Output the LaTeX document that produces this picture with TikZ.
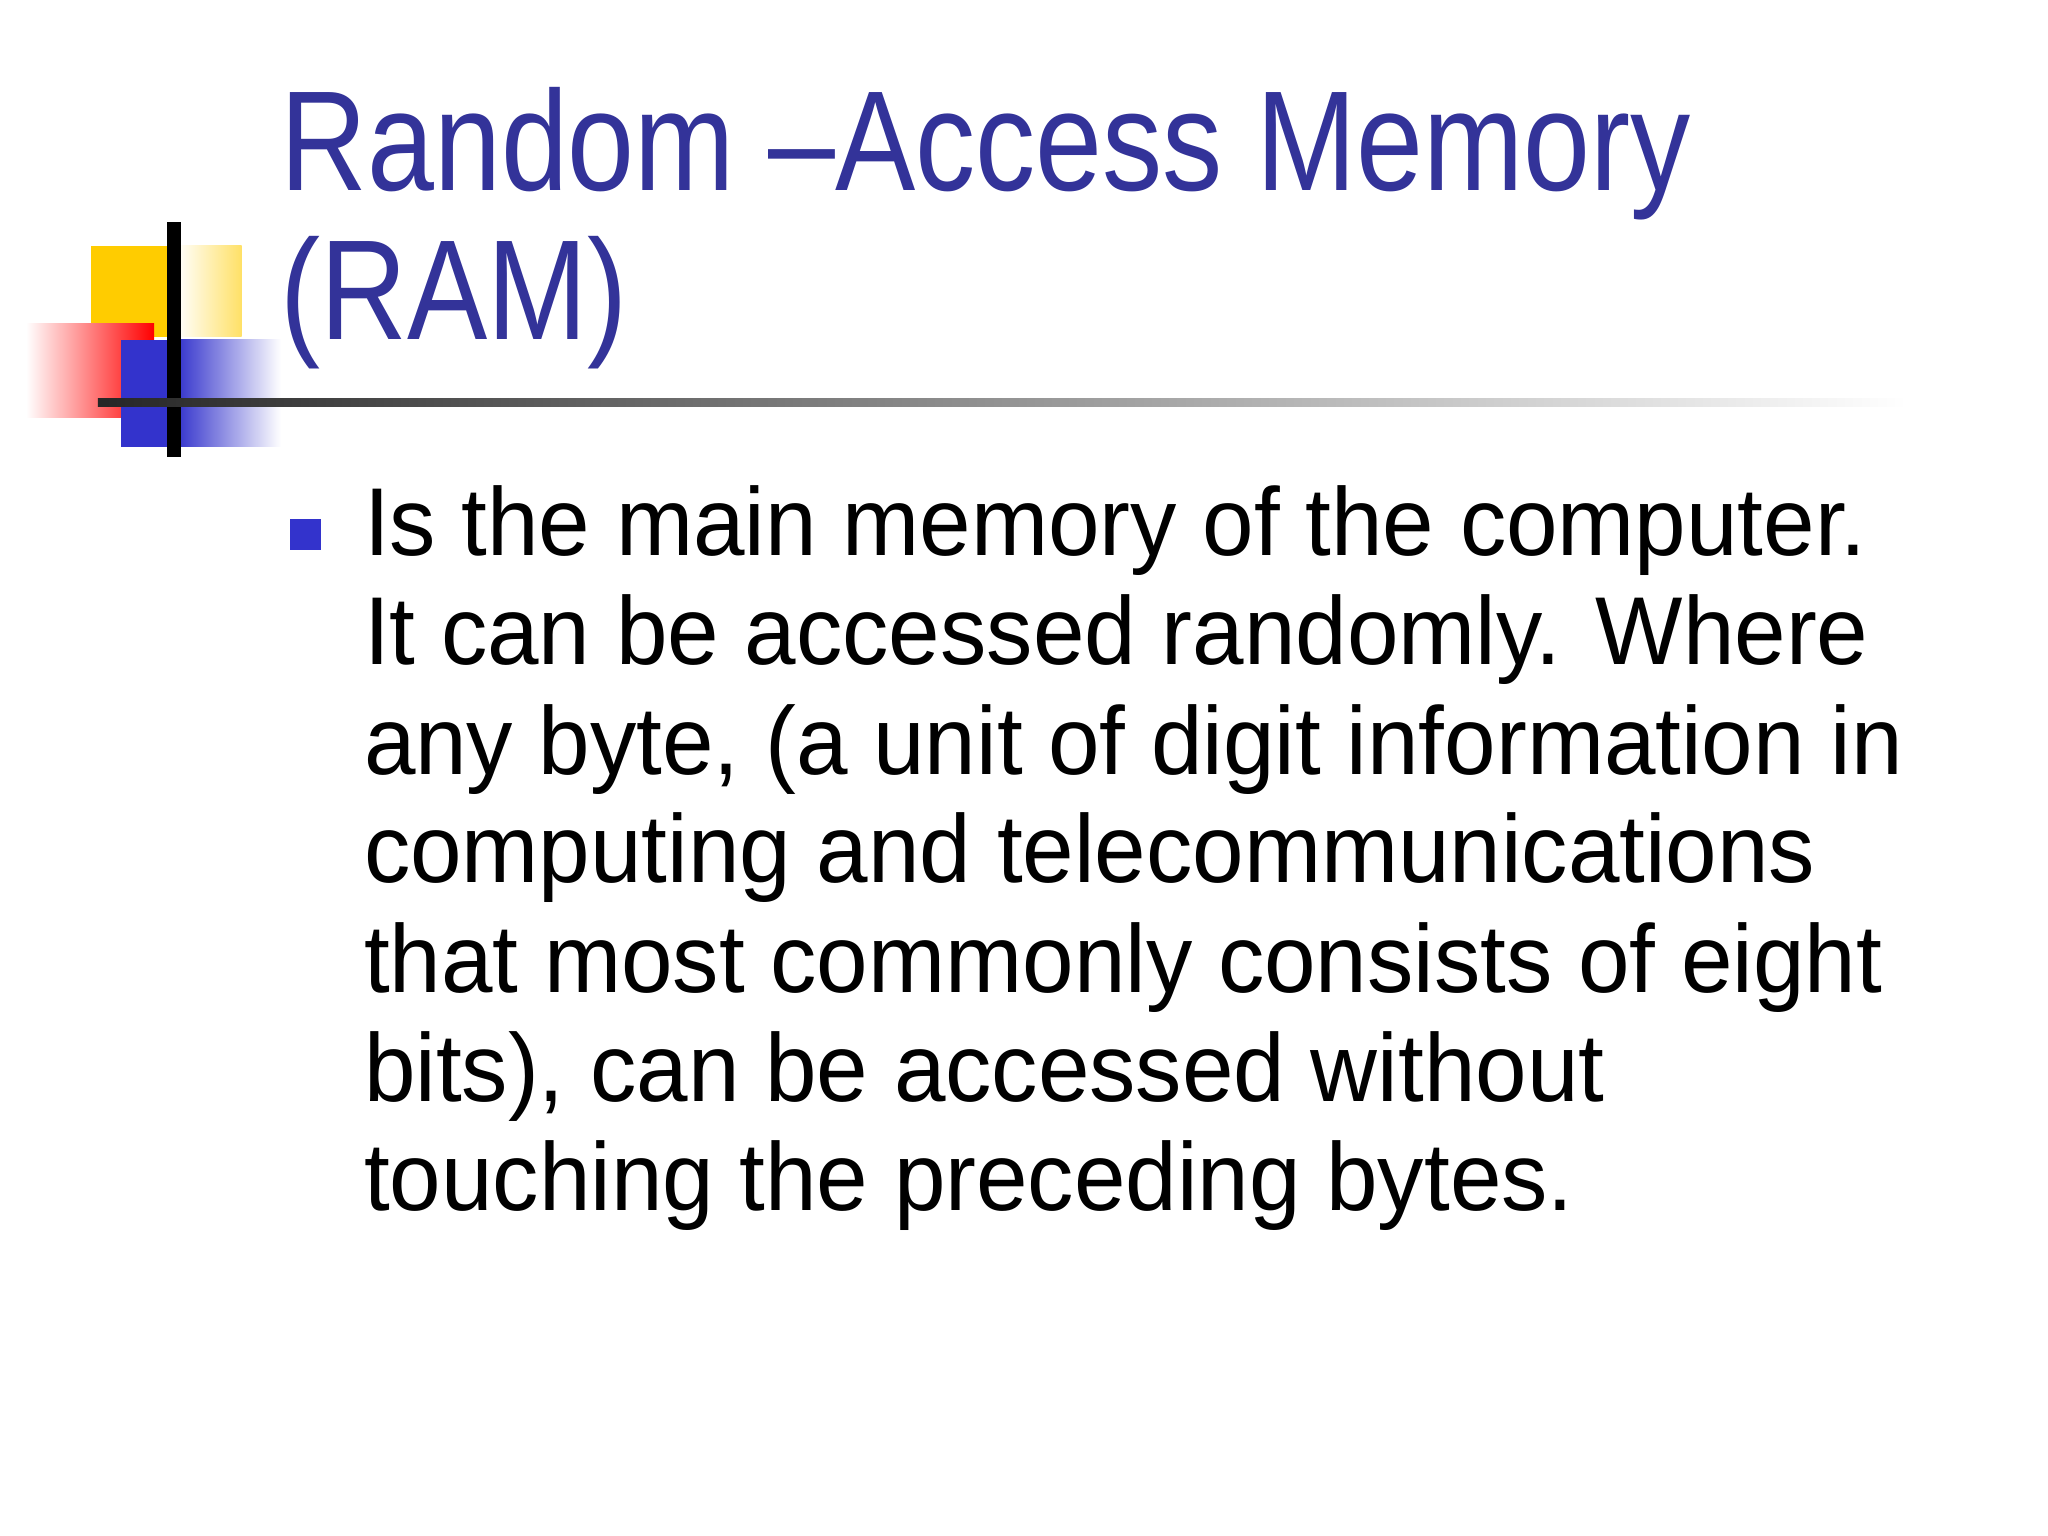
\documentclass[tikz,border=0pt]{standalone}
\usepackage{fontspec}
\setmainfont{Liberation Sans}
\newfontfamily\bodyfont[FakeStretch=0.96]{Liberation Sans}
\newfontfamily\titlefont[FakeStretch=0.845]{Liberation Sans}
\usetikzlibrary{shadings}
\definecolor{titleblue}{HTML}{333399}
\definecolor{bulblue}{HTML}{3333CC}
\definecolor{ylw}{HTML}{FFCC00}
\tikzset{
  px/.style={x=0.01cm,y=-0.01cm},
  body/.style={anchor=base west,inner sep=0pt,font=\bodyfont\fontsize{21}{25}\selectfont},
  ttl/.style={anchor=base west,inner sep=0pt,text=titleblue,font=\titlefont\fontsize{31}{36}\selectfont}
}
\begin{document}
\begin{tikzpicture}[px]
\useasboundingbox (0,0) rectangle (1568,1176);
\fill[white] (0,0) rectangle (1568,1176);
% decoration
\fill[ylw] (70,188) rectangle (135,258);
\shade[left color=white, right color=ylw!60] (135,188) rectangle (185,258);
\shade[left color=white, right color=red] (20,248) rectangle (118,320);
\fill[bulblue] (93,260) rectangle (135,342);
\shade[left color=bulblue, right color=white] (135,260) rectangle (215,342);
\draw[line width=3pt] (133,170) -- (133,350);
\shade[left color=black!85, right color=white] (75,305) rectangle (1460,311);
% title
\node[ttl] (t1) at (214,146) {Random –Access Memory};
\node[ttl] (t2) at (214,260) {(RAM)};
% bullet
\fill[bulblue] (222,397) rectangle (246,421);
\node[body] (l1) at (278,425) {Is the main memory of the computer.};
\node[body] (l2) at (278,509) {It can be accessed randomly. Where};
\node[body] (l3) at (278,593) {any byte, (a unit of digit information in};
\node[body] (l4) at (278,676) {computing and telecommunications};
\node[body] (l5) at (278,760) {that most commonly consists of eight};
\node[body] (l6) at (278,843) {bits), can be accessed without};
\node[body] (l7) at (278,927) {touching the preceding bytes.};
\end{tikzpicture}
\end{document}
